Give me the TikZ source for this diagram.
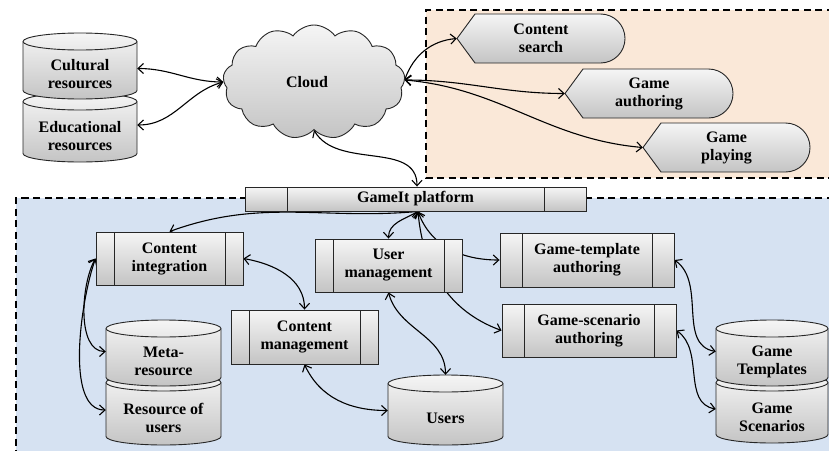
\documentclass[tikz,border=0pt]{standalone}
\usepackage{fontspec}
\setmainfont{Liberation Serif}
\usetikzlibrary{shapes.symbols,arrows.meta}
\pgfdeclarelayer{regions}
\pgfdeclarelayer{edges}
\pgfsetlayers{regions,edges,main}

\definecolor{peach}{HTML}{FAE8D8}
\definecolor{paleblue}{HTML}{D6E2F2}
\definecolor{boxtop}{HTML}{F5F5F5}
\definecolor{boxbot}{HTML}{C4C4C4}

\tikzset{
  every node/.style={font=\bfseries\fontsize{16}{18}\selectfont, align=center, inner sep=0pt},
  shaded/.style={draw=black!85, line width=0.9pt, top color=boxtop, bottom color=boxbot},
  region/.style={draw=black, line width=2.3pt, dash pattern=on 7pt off 4.5pt},
  procbox/.style={shaded, rectangle,
    path picture={\draw[line width=0.9pt, black!85]
      ([xshift=#1]path picture bounding box.north west) -- ([xshift=#1]path picture bounding box.south west)
      ([xshift=-#1]path picture bounding box.north east) -- ([xshift=-#1]path picture bounding box.south east);}},
  conn/.style={line width=1.1pt, {Straight Barb[length=5.5pt,width=10pt]}-{Straight Barb[length=5.5pt,width=10pt]}},
}

% cylinder: name, x1, ytop, x2, ybot, text (pixel coordinates, y downwards)
\newcommand\dbcyl[6]{%
  \path[shaded] (#2,-#3-8.5) -- (#2,-#5+8.5)
    arc[start angle=180,end angle=360,x radius={(#4-#2)/2},y radius=8.5]
    -- (#4,-#3-8.5)
    arc[start angle=0,end angle=180,x radius={(#4-#2)/2},y radius=8.5] -- cycle;
  \draw[line width=0.9pt, black!85] (#2,-#3-8.5)
    arc[start angle=180,end angle=360,x radius={(#4-#2)/2},y radius=8.5];
  \node[minimum width={#4-#2}, minimum height={#5-#3-17}] (#1)
    at ({(#2+#4)/2},{-(#3+17+#5)/2}) {#6};
}
% display shape: name, x1, ytop, x2, ybot, text
\newcommand\dispshape[6]{%
  \path[shaded] (#2,{-(#3+#5)/2}) -- (#2+18,-#3) -- ({#4-(#5-#3)/2},-#3)
    arc[start angle=90,end angle=-90,radius={(#5-#3)/2}]
    -- (#2+18,-#5) -- cycle;
  \node[minimum width={#4-#2}, minimum height={#5-#3}] (#1)
    at ({(#2+#4)/2},{-(#3+#5)/2}) {#6};
}

\begin{document}
\begin{tikzpicture}[x=1pt,y=1pt]
\useasboundingbox (0,0) rectangle (829,-450);

% regions
\begin{pgfonlayer}{regions}
  \fill[peach] (426,-10) rectangle (845,-178);
  \draw[region] (845,-10) -- (426,-10) -- (426,-178) -- (845,-178);
  \fill[paleblue] (16,-198) rectangle (845,-465);
  \draw[region] (845,-198) -- (16,-198) -- (16,-465);
\end{pgfonlayer}

% cylinders (lower one first)
\dbcyl{edu}{23}{93}{137}{162}{Educational\\resources}
\dbcyl{cult}{23}{33}{137}{99}{Cultural\\resources}
\dbcyl{res}{106}{374}{221}{445}{Resource of\\users}
\dbcyl{meta}{106}{320}{221}{386}{Meta-\\resource}
\dbcyl{users}{388}{375}{503}{445}{Users}
\dbcyl{gs}{716}{374}{828}{443}{Game\\Scenarios}
\dbcyl{gt}{716}{320}{828}{386}{Game\\Templates}

% cloud
\node[cloud, shaded, cloud puffs=13, cloud puff arc=110, cloud ignores aspect,
      minimum width=182pt, minimum height=114pt] (cloud) at (314,-82) {};
\node (cloudt) at (307,-82) {Cloud};

% display shapes
\dispshape{cs}{457}{14}{625}{63}{Content\\search}
\dispshape{ga}{565}{69}{733}{118}{Game\\authoring}
\dispshape{gp}{643}{123}{810}{172}{Game\\playing}

% process boxes
\node[procbox=42pt, minimum width=341pt, minimum height=24pt] (plat) at (415.5,-199) {GameIt platform};
\node[procbox=18pt, minimum width=147pt, minimum height=53pt] (ci) at (169.5,-258.5) {Content\\integration};
\node[procbox=18pt, minimum width=147pt, minimum height=53pt] (um) at (388.5,-265.5) {User\\management};
\node[procbox=18pt, minimum width=147pt, minimum height=54pt] (cm) at (304.5,-337) {Content\\management};
\node[procbox=22pt, minimum width=174pt, minimum height=54pt] (gta) at (587,-260) {Game-template\\authoring};
\node[procbox=22pt, minimum width=174pt, minimum height=53pt] (gsa) at (589,-330.5) {Game-scenario\\authoring};

% connectors
\begin{pgfonlayer}{edges}
  \draw[conn] ([yshift=6]cult.east) to[out=0,in=180] (cloud.west);
  \draw[conn] ([yshift=11]edu.east) to[out=0,in=195] (cloud.west);
  \draw[conn] (cloud.south) to[out=-60,in=90] ([xshift=1.5]plat.north);
  \draw[conn] ([yshift=2]cloud.east) to[out=70,in=185] (cs.west);
  \draw[conn] ([yshift=2]cloud.east) to[out=0,in=180] (ga.west);
  \draw[conn] ([yshift=2]cloud.east) to[out=-5,in=175] (gp.west);

  \draw[conn] ([xshift=2.5]plat.south) to[out=185,in=20] (ci.north);
  \draw[conn] ([xshift=2.5]plat.south) to[out=-150,in=90] (um.north);
  \draw[conn] ([xshift=2.5]plat.south) to[out=-70,in=180] (gta.west);
  \draw[conn] ([xshift=2.5]plat.south) to[out=-85,in=160] (gsa.west);

  \draw[conn] (ci.east) to[out=-10,in=90] (cm.north);
  \draw[conn] (ci.west) to[out=240,in=180,looseness=0.8] ([yshift=10]meta.west);
  \draw[conn] (ci.west) to[out=250,in=180,looseness=0.7] ([yshift=8]res.west);
  \draw[conn] (cm.south) to[out=-65,in=180] ([yshift=8]users.west);
  \draw[conn] (um.south) to[out=-75,in=90] ([yshift=17]users.north);
  \draw[conn] (gta.east) to[out=-35,in=170] ([yshift=10]gt.west);
  \draw[conn] (gsa.east) to[out=-35,in=170] ([yshift=8]gs.west);
\end{pgfonlayer}
\end{tikzpicture}
\end{document}
